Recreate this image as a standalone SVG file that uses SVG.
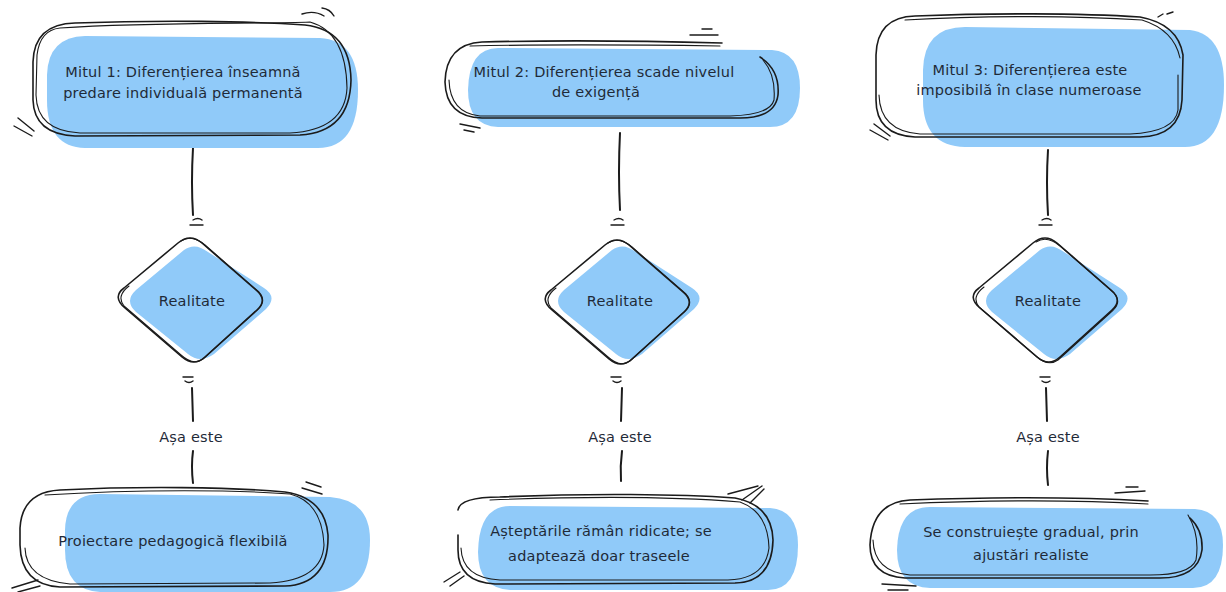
<svg xmlns="http://www.w3.org/2000/svg" width="1226" height="592" viewBox="0 0 1226 592">
  <style>
    .fill { fill: #90caf9; stroke: none; }
    .ink { fill: none; stroke: #1b1b1b; stroke-width: 1.6; stroke-linecap: round; stroke-linejoin: round; }
    .ink2 { fill: none; stroke: #1b1b1b; stroke-width: 1.1; stroke-linecap: round; stroke-linejoin: round; }
    .hatch { fill: none; stroke: #1b1b1b; stroke-width: 1.4; stroke-linecap: round; }
    .wire { fill: none; stroke: #1b1b1b; stroke-width: 2; stroke-linecap: round; }
    .label { font-family: "DejaVu Sans", "Liberation Sans", sans-serif; font-size: 14.5px; letter-spacing: 0.2px; fill: #1f2a38; text-anchor: middle; }
    .edge-label { font-family: "DejaVu Sans", "Liberation Sans", sans-serif; font-size: 14.5px; letter-spacing: 0.2px; fill: #1f2a38; text-anchor: middle; }
  </style>
  <defs>
    <!-- diamond outline, centered on origin -->
    <path id="dia-ink" d="M 12,-57 L 66,-10 Q 78,0 67,10 L 15,57 Q 4,67 -8,57 L -65,8 Q -78,-3 -66,-12 L -12,-57 Q 0,-67 12,-57 Z"/>
    <path id="dia-ink2" d="M -10,-59 Q 1,-66 14,-55 L 68,-8 Q 77,2 64,12 L 12,59 Q 2,66 -10,55 L -67,6 Q -75,-4 -62,-14"/>
    <path id="dia-fill" d="M 18,-48 L 74,-12 Q 88,-3 76,9 L 24,54 Q 10,64 -2,54 L -54,12 Q -66,1 -54,-10 L -6,-50 Q 5,-58 18,-48 Z"/>
  </defs>

  <rect width="1226" height="592" fill="#ffffff"/>

  <!-- connectors -->
  <g id="connectors">
    <path class="wire" d="M 193,148 Q 191,182 193,215"/>
    <path class="hatch" d="M 193,220 q 5,-3 9,0 M 190,225 l 13,0"/>
    <path class="hatch" d="M 183,377 l 10,0 M 185,381 q 4,3 8,0"/>
    <path class="wire" d="M 192,388 L 193,421"/>
    <text class="edge-label" x="191" y="442">Așa este</text>
    <path class="wire" d="M 193,451 Q 191,466 193,483"/>

    <path class="wire" d="M 620,133 Q 618,172 620,210"/>
    <path class="hatch" d="M 614,220 q 5,-3 9,0 M 611,225 l 13,0"/>
    <path class="hatch" d="M 611,377 l 10,0 M 613,381 q 4,3 8,0"/>
    <path class="wire" d="M 622,388 L 621,421"/>
    <text class="edge-label" x="620" y="442">Așa este</text>
    <path class="wire" d="M 622,451 Q 620,466 621,481"/>

    <path class="wire" d="M 1048,150 Q 1046,182 1048,215"/>
    <path class="hatch" d="M 1042,220 q 5,-3 9,0 M 1039,225 l 13,0"/>
    <path class="hatch" d="M 1040,377 l 10,0 M 1042,381 q 4,3 8,0"/>
    <path class="wire" d="M 1046,388 L 1047,421"/>
    <text class="edge-label" x="1048" y="442">Așa este</text>
    <path class="wire" d="M 1048,451 Q 1046,468 1048,485"/>
  </g>

  <!-- column 1 -->
  <g id="myth1">
    <path class="fill" d="M 85,36 L 320,38 Q 358,40 358,90 Q 358,148 318,148 L 85,148 Q 47,147 47,100 L 47,75 Q 48,37 85,36 Z"/>
    <path class="ink" d="M 75,23 C 160,20 250,21 305,25 Q 350,30 351,80 Q 350,132 300,135 L 75,136 Q 34,134 33,100 L 33,62 Q 34,24 75,23 Z"/>
    <path class="ink2" d="M 60,28 C 150,22 260,24 310,22 Q 346,32 347,88 Q 345,130 290,133 L 80,133 Q 37,131 36,95 L 37,55 Q 40,30 60,28"/>
    <path class="hatch" d="M 302,14 q 12,-4 22,2 M 322,8 q 8,1 12,8 M 14,126 l 18,10 M 18,118 l 16,13"/>
    <text class="label" x="183" y="77">Mitul 1: Diferențierea înseamnă</text>
    <text class="label" x="183" y="98">predare individuală permanentă</text>
  </g>
  <g id="reality1">
    <use href="#dia-fill" class="fill" transform="translate(190,300)"/>
    <use href="#dia-ink" class="ink" transform="translate(190,300)"/>
    <use href="#dia-ink2" class="ink2" transform="translate(191,300)"/>
    <text class="label" x="192" y="306">Realitate</text>
  </g>
  <g id="fact1">
    <path class="fill" d="M 100,494 L 330,497 Q 370,500 370,540 Q 370,592 330,592 L 100,592 Q 65,590 65,550 L 65,530 Q 66,494 100,494 Z"/>
    <path class="ink" d="M 60,490 C 140,486 230,487 285,492 Q 325,498 328,535 Q 329,584 285,586 L 60,587 Q 21,585 20,545 L 20,528 Q 22,492 60,490 Z"/>
    <path class="ink2" d="M 45,495 C 140,489 240,490 290,494 Q 322,502 324,545 Q 322,580 270,583 L 70,584 Q 26,580 25,548"/>
    <path class="hatch" d="M 302,488 l 20,6 M 306,482 l 15,5 M 12,588 l 26,-8 M 18,592 l 22,-6"/>
    <text class="label" x="173" y="546">Proiectare pedagogică flexibilă</text>
  </g>

  <!-- column 2 -->
  <g id="myth2">
    <path class="fill" d="M 498,48 L 772,50 Q 800,52 800,88 Q 800,127 770,127 L 498,127 Q 468,126 468,90 Q 469,48 498,48 Z"/>
    <path class="ink" d="M 482,42 C 560,40 650,41 722,43 M 760,57 Q 780,70 778,95 Q 775,118 740,118 L 482,118 Q 446,117 445,82 Q 446,44 482,42"/>
    <path class="ink2" d="M 470,46 C 560,44 650,45 720,46 M 763,60 Q 776,75 774,100 Q 770,115 730,116 L 480,116 Q 450,113 449,80"/>
    <path class="hatch" d="M 690,35 l 28,0 M 702,29 l 10,0 M 460,124 l 20,4 M 464,130 l 10,2"/>
    <text class="label" x="604" y="77">Mitul 2: Diferențierea scade nivelul</text>
    <text class="label" x="596" y="97">de exigență</text>
  </g>
  <g id="reality2">
    <use href="#dia-fill" class="fill" transform="translate(618,300)"/>
    <use href="#dia-ink" class="ink" transform="translate(617,302)"/>
    <use href="#dia-ink2" class="ink2" transform="translate(618,302)"/>
    <text class="label" x="620" y="306">Realitate</text>
  </g>
  <g id="fact2">
    <path class="fill" d="M 510,506 L 770,508 Q 798,510 798,545 Q 798,590 768,590 L 510,590 Q 478,588 478,552 Q 479,506 510,506 Z"/>
    <path class="ink" d="M 500,497 C 590,493 680,494 735,498 Q 772,505 773,540 Q 772,582 735,583 L 495,584 Q 458,582 458,550 L 458,535 M 458,510 Q 460,497 500,497"/>
    <path class="ink2" d="M 490,500 C 590,496 680,497 740,502 Q 768,512 769,548 Q 765,579 728,580 L 500,580 Q 462,578 461,548"/>
    <path class="hatch" d="M 728,494 l 30,-8 M 742,500 l 20,-14 M 750,503 l 14,-14 M 444,582 l 16,-10 M 450,586 l 14,-10"/>
    <text class="label" x="601" y="536">Așteptările rămân ridicate; se</text>
    <text class="label" x="599" y="561">adaptează doar traseele</text>
  </g>

  <!-- column 3 -->
  <g id="myth3">
    <path class="fill" d="M 965,27 L 1190,30 Q 1224,34 1224,85 Q 1224,147 1185,147 L 965,147 Q 923,146 923,100 L 923,70 Q 924,27 965,27 Z"/>
    <path class="ink" d="M 915,16 C 990,13 1080,13 1140,17 Q 1178,24 1183,55 L 1182,100 Q 1180,136 1140,137 L 915,137 Q 876,135 876,100 L 876,55 Q 877,17 915,16 Z"/>
    <path class="ink2" d="M 905,20 C 990,15 1080,16 1142,20 Q 1174,30 1180,58 M 1178,75 L 1178,110 Q 1175,132 1130,134 L 920,134 Q 880,131 879,95"/>
    <path class="hatch" d="M 1158,17 l 5,-3 M 1167,14 l 6,-2 M 870,130 l 18,10 M 874,124 l 16,12"/>
    <text class="label" x="1030" y="75">Mitul 3: Diferențierea este</text>
    <text class="label" x="1029" y="95">imposibilă în clase numeroase</text>
  </g>
  <g id="reality3">
    <use href="#dia-fill" class="fill" transform="translate(1046,300)"/>
    <use href="#dia-ink" class="ink" transform="translate(1045,300)"/>
    <use href="#dia-ink2" class="ink2" transform="translate(1046,301)"/>
    <text class="label" x="1048" y="306">Realitate</text>
  </g>
  <g id="fact3">
    <path class="fill" d="M 930,507 L 1195,509 Q 1223,511 1223,545 Q 1223,588 1193,588 L 930,588 Q 897,587 897,550 Q 898,507 930,507 Z"/>
    <path class="ink" d="M 910,500 C 990,497 1080,497 1148,501 M 1190,518 Q 1203,530 1202,550 Q 1198,578 1160,578 L 905,578 Q 870,576 870,545 Q 872,502 910,500"/>
    <path class="ink2" d="M 900,504 C 990,500 1080,500 1148,504 M 1188,515 Q 1200,535 1196,560 Q 1190,575 1150,575 L 910,575 Q 874,572 873,540"/>
    <path class="hatch" d="M 1115,493 l 30,-2 M 1126,487 l 12,0 M 882,584 l 34,2 M 888,590 l 20,0"/>
    <text class="label" x="1031" y="537">Se construiește gradual, prin</text>
    <text class="label" x="1031" y="560">ajustări realiste</text>
  </g>
</svg>
